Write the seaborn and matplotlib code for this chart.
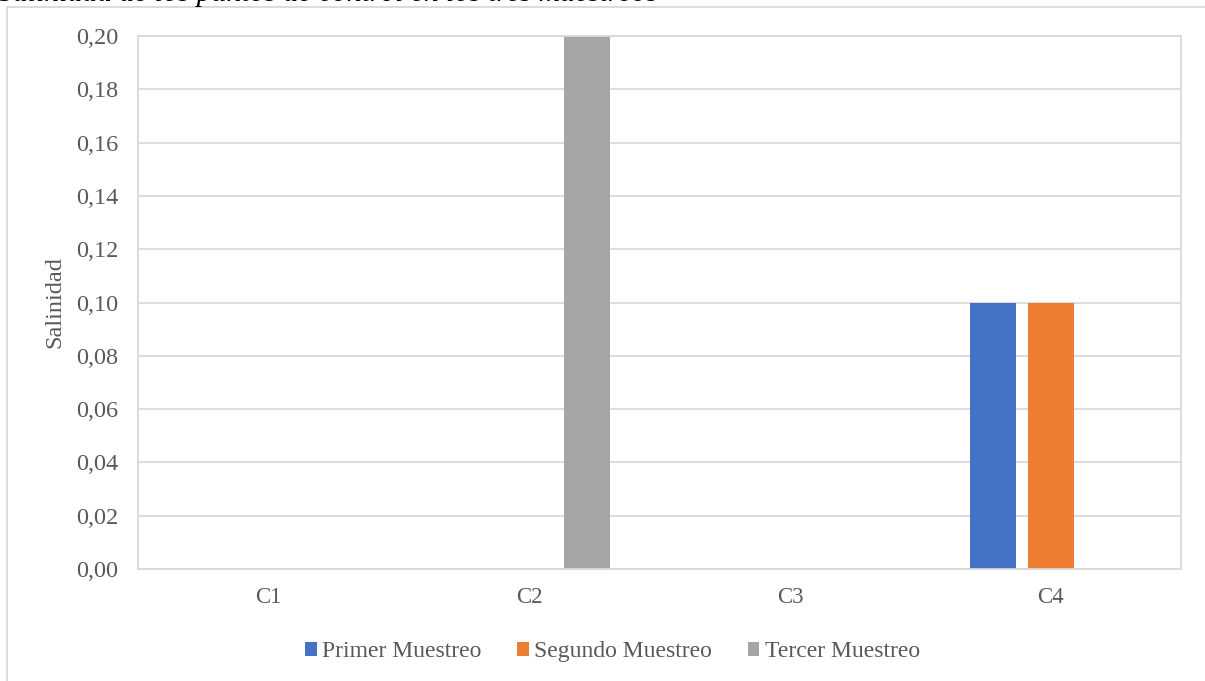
import matplotlib
matplotlib.use("Agg")
import matplotlib.pyplot as plt
from matplotlib.lines import Line2D
import seaborn as sns
import pandas as pd

# Salinity per control point and sampling campaign
puntos = ["C1", "C2", "C3", "C4"]
primer_muestreo = [0.0, 0.0, 0.0, 0.10]
segundo_muestreo = [0.0, 0.0, 0.0, 0.10]
tercer_muestreo = [0.0, 0.20, 0.0, 0.0]
series = ["Primer Muestreo", "Segundo Muestreo", "Tercer Muestreo"]
colores = ["#4472C4", "#ED7D31", "#A5A5A5"]
y_ticks = [0.00, 0.02, 0.04, 0.06, 0.08, 0.10, 0.12, 0.14, 0.16, 0.18, 0.20]

df = pd.DataFrame({
    "Punto": puntos * 3,
    "Muestreo": [series[0]] * 4 + [series[1]] * 4 + [series[2]] * 4,
    "Salinidad": primer_muestreo + segundo_muestreo + tercer_muestreo,
})

sns.set_theme(style="white")
plt.rcParams["font.family"] = ["Liberation Serif", "DejaVu Serif"]

W, H = 1205, 681
fig = plt.figure(figsize=(W / 100, H / 100), dpi=100)
ax = fig.add_axes([138 / W, 1 - 569 / H, (1181 - 138) / W, (569 - 36) / H])

sns.barplot(data=df, x="Punto", y="Salinidad", hue="Muestreo",
            palette=colores, hue_order=series, order=puntos, saturation=1,
            width=0.667, gap=0.21, linewidth=0, ax=ax, legend=True)

texto = "#595959"
grid = "#D9D9D9"
ax.set_ylim(0, 0.20)
ax.set_xlim(-0.5, 3.5)
ax.set_yticks(y_ticks)
ax.set_yticklabels([f"{v:.2f}".replace(".", ",") for v in y_ticks])
ax.yaxis.grid(True, color=grid, linewidth=1.3)
ax.set_axisbelow(True)
for s in ax.spines.values():
    s.set_color(grid)
    s.set_linewidth(1.3)
ax.tick_params(axis="x", length=0, labelsize=16.5, colors=texto, pad=13)
ax.tick_params(axis="y", length=0, labelsize=17.5, colors=texto, pad=14)
ax.set_xlabel("")
ax.set_ylabel("Salinidad", fontsize=17.5, color=texto)
ax.yaxis.set_label_coords(-0.0700, 0.5)

leg = ax.legend(loc="center", bbox_to_anchor=(0.455, -0.1556), ncol=3,
                frameon=False, fontsize=17, handlelength=0.5, handleheight=0.5,
                handletextpad=0.22, columnspacing=1.5, labelcolor=texto)

# Chart frame
fig.add_artist(Line2D([6.5 / W, 6.5 / W], [0, 1 - 6.5 / H], color=grid, lw=1.3))
fig.add_artist(Line2D([6.5 / W, 1], [1 - 6.5 / H, 1 - 6.5 / H], color=grid, lw=1.3))

# Caption above the chart
fig.text(-0.002, 1 - 1.0 / H, "Salinidad de los puntos de control en los tres muestreos",
         fontsize=21.3, style="italic", color="black", va="baseline", ha="left")

fig.savefig("out.png", dpi=100)
